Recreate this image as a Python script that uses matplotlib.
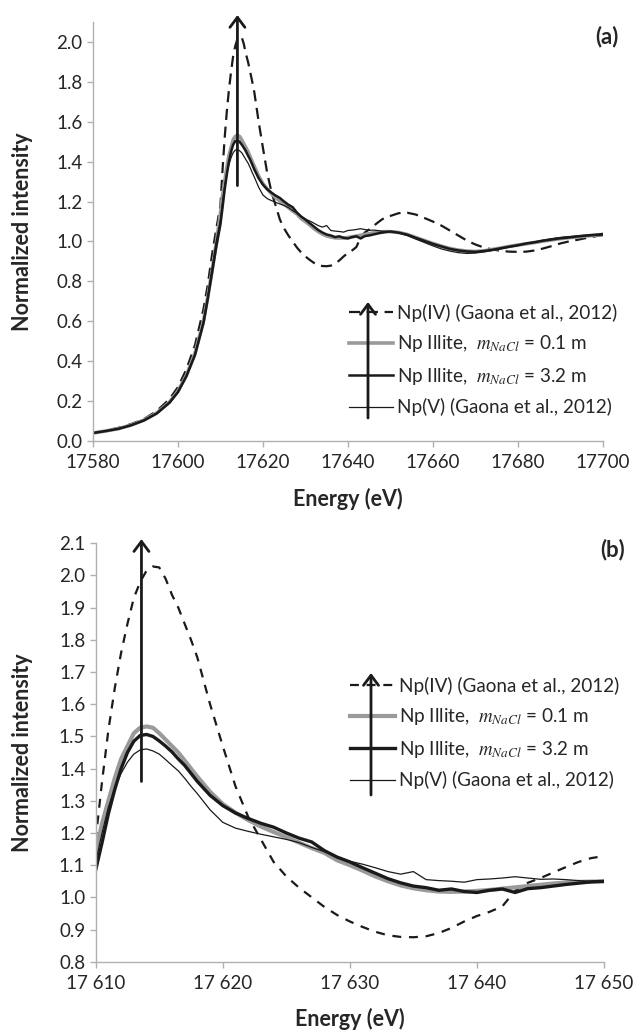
import numpy as np
import matplotlib
matplotlib.use("Agg")
import matplotlib.pyplot as plt
from matplotlib.ticker import FuncFormatter, MultipleLocator

plt.rcParams['font.family'] = ['Lato', 'DejaVu Sans']
plt.rcParams['mathtext.fontset'] = 'stix'

# energie (eV), grille commune aux quatre spectres
energy = [17580, 17583, 17586, 17589, 17592, 17595, 17598, 17600, 17602, 17604, 17606, 17607, 17608, 17609,
          17610, 17610.5, 17611, 17611.5, 17612, 17612.5, 17613, 17613.5, 17614, 17614.5, 17615, 17615.5,
          17616, 17616.5, 17617, 17617.5, 17618,
          17619, 17620, 17621, 17622, 17623, 17624, 17625, 17626, 17627, 17628, 17629, 17630, 17631, 17632,
          17633, 17634, 17635, 17636, 17637, 17638, 17639, 17640, 17641, 17642, 17643, 17644, 17645, 17646,
          17647, 17648, 17649, 17650,
          17652, 17654, 17656, 17658, 17660, 17662, 17664, 17666, 17668, 17670, 17672, 17674, 17676, 17678,
          17680, 17682, 17684, 17686, 17688, 17690, 17692, 17694, 17696, 17698, 17700]

np_iv = [0.04, 0.052, 0.066, 0.085, 0.11, 0.15, 0.21, 0.27, 0.36, 0.48, 0.66, 0.78, 0.93, 1.06,
         1.18, 1.36, 1.52, 1.65, 1.76, 1.85, 1.93, 1.98, 2.015, 2.028, 2.025, 1.99,
         1.94, 1.90, 1.85, 1.80, 1.745,
         1.60, 1.47, 1.345, 1.25, 1.18, 1.11, 1.065, 1.03, 1.0, 0.97, 0.945, 0.925, 0.908, 0.893,
         0.882, 0.877, 0.876, 0.879, 0.889, 0.905, 0.925, 0.942, 0.955, 0.972, 1.02, 1.045, 1.06, 1.077,
         1.094, 1.11, 1.122, 1.128,
         1.142, 1.144, 1.135, 1.118, 1.10, 1.08, 1.055, 1.03, 1.005, 0.985, 0.97, 0.96, 0.953, 0.949,
         0.948, 0.949, 0.955, 0.965, 0.977, 0.99, 1.0, 1.008, 1.017, 1.025, 1.032]

illite_01 = [0.04, 0.05, 0.062, 0.08, 0.105, 0.14, 0.195, 0.25, 0.33, 0.44, 0.6, 0.72, 0.85, 0.99,
             1.14, 1.23, 1.30, 1.37, 1.43, 1.47, 1.51, 1.527, 1.531, 1.527, 1.51, 1.49,
             1.47, 1.45, 1.425, 1.40, 1.375,
             1.328, 1.29, 1.263, 1.24, 1.22, 1.203, 1.187, 1.17, 1.153, 1.138, 1.115, 1.10, 1.083, 1.065,
             1.05, 1.037, 1.028, 1.022, 1.018, 1.017, 1.018, 1.02, 1.023, 1.027, 1.031, 1.035, 1.039, 1.043,
             1.046, 1.048, 1.049, 1.049,
             1.045, 1.035, 1.02, 1.005, 0.99, 0.977, 0.965, 0.957, 0.952, 0.95, 0.953, 0.96, 0.967, 0.975,
             0.982, 0.988, 0.995, 1.002, 1.008, 1.014, 1.019, 1.023, 1.027, 1.031, 1.035]

illite_32 = [0.04, 0.05, 0.061, 0.079, 0.103, 0.138, 0.192, 0.245, 0.325, 0.43, 0.59, 0.71, 0.84, 0.97,
             1.085, 1.17, 1.26, 1.335, 1.40, 1.45, 1.485, 1.503, 1.506, 1.50, 1.486, 1.47,
             1.452, 1.43, 1.41, 1.385, 1.36,
             1.317, 1.285, 1.262, 1.245, 1.23, 1.218, 1.20, 1.184, 1.172, 1.145, 1.125, 1.11, 1.092, 1.075,
             1.058, 1.045, 1.035, 1.03, 1.022, 1.026, 1.018, 1.015, 1.022, 1.026, 1.015, 1.027, 1.03, 1.035,
             1.04, 1.044, 1.048, 1.05,
             1.044, 1.034, 1.018, 1.003, 0.988, 0.975, 0.963, 0.955, 0.95, 0.948, 0.952, 0.958, 0.966, 0.974,
             0.981, 0.99, 0.996, 1.004, 1.01, 1.016, 1.02, 1.025, 1.03, 1.033, 1.037]

np_v = [0.04, 0.05, 0.062, 0.08, 0.104, 0.139, 0.193, 0.248, 0.328, 0.435, 0.6, 0.72, 0.86, 1.0,
        1.11, 1.20, 1.28, 1.34, 1.385, 1.42, 1.445, 1.458, 1.461, 1.455, 1.445, 1.428,
        1.41, 1.393, 1.37, 1.345, 1.322,
        1.272, 1.233, 1.215, 1.205, 1.196, 1.188, 1.18, 1.17, 1.155, 1.142, 1.126, 1.112, 1.103, 1.092,
        1.08, 1.072, 1.08, 1.055, 1.052, 1.05, 1.047, 1.055, 1.057, 1.06, 1.064, 1.06, 1.056, 1.057,
        1.055, 1.052, 1.05, 1.049,
        1.043, 1.03, 1.012, 0.995, 0.978, 0.963, 0.952, 0.944, 0.94, 0.942, 0.948, 0.955, 0.963, 0.972,
        0.98, 0.99, 0.998, 1.006, 1.014, 1.02, 1.024, 1.027, 1.028, 1.03, 1.032]

labels = ["Np(IV) (Gaona et al., 2012)",
          r"Np Illite,  $m_{NaCl}$ = 0.1 m",
          r"Np Illite,  $m_{NaCl}$ = 3.2 m",
          "Np(V) (Gaona et al., 2012)"]

# fleche du pic (energie, debut, fin)
arrow_a = (17614, 1.28, 2.135)
arrow_b = (17613.6, 1.36, 2.113)

W, H = 633, 1030
fig = plt.figure(figsize=(W / 100, H / 100), dpi=100)

spine_col = '#b0b0b0'
txt_col = '#262626'
TICK_FS = 13.5
LEG_FS = 13.6
LAB_FS = 15.5


def px_axes(l, r, t, b):
    return fig.add_axes([l / W, 1 - b / H, (r - l) / W, (b - t) / H])


def style(ax):
    for s in ['top', 'right']:
        ax.spines[s].set_visible(False)
    for s in ['left', 'bottom']:
        ax.spines[s].set_color(spine_col)
        ax.spines[s].set_linewidth(1.0)
    ax.tick_params(direction='out', length=4.5, width=1.0, color=spine_col,
                   labelsize=TICK_FS, labelcolor=txt_col)
    ax.tick_params(axis='x', pad=5)
    ax.tick_params(axis='y', pad=3)


def draw(ax, lw_gray, lw_black, dashes):
    l1, = ax.plot(energy, np_iv, color='#1a1a1a', lw=1.6, dashes=dashes, label=labels[0])
    l2, = ax.plot(energy, illite_01, color='#9a9a9a', lw=lw_gray, label=labels[1])
    l3, = ax.plot(energy, illite_32, color='#1a1a1a', lw=lw_black, label=labels[2])
    l4, = ax.plot(energy, np_v, color='#1a1a1a', lw=0.9, label=labels[3])
    return [l1, l2, l3, l4]


def fig_arrow(x, y0, y1):
    fig.patches.append(matplotlib.patches.FancyArrowPatch(
        (x / W, 1 - y0 / H), (x / W, 1 - y1 / H), transform=fig.transFigure,
        arrowstyle='->,head_length=0.6,head_width=0.45', mutation_scale=12,
        lw=2.0, color='#1a1a1a', shrinkA=0, shrinkB=0))


def legend(ax, h, x, y, hl):
    ax.legend(handles=h, loc='upper left', bbox_to_anchor=(x / W, 1 - y / H),
              bbox_transform=fig.transFigure, frameon=False, fontsize=LEG_FS,
              handlelength=hl, handletextpad=0.22, labelspacing=0.6, borderpad=0,
              borderaxespad=0, labelcolor=txt_col)


# ---- (a)
ax1 = px_axes(93, 602.7, 22, 441)
style(ax1)
h = draw(ax1, 2.6, 1.8, (5, 3))
ax1.set_xlim(17580, 17700)
ax1.set_ylim(0, 2.1)
ax1.set_xticks(np.arange(17580, 17701, 20))
ax1.set_yticks(np.arange(0, 2.01, 0.2))
ax1.yaxis.set_major_formatter(FuncFormatter(lambda v, p: f"{v:.1f}"))
ax1.annotate('', xy=(arrow_a[0], arrow_a[2]), xytext=(arrow_a[0], arrow_a[1]),
             arrowprops=dict(arrowstyle='->,head_length=0.6,head_width=0.45', lw=2.0,
                             color='#1a1a1a', shrinkA=0, shrinkB=0, mutation_scale=12),
             annotation_clip=False)
ax1.set_xlabel('Energy (eV)', fontsize=LAB_FS, fontweight='bold', color=txt_col)
ax1.set_ylabel('Normalized intensity', fontsize=LAB_FS, fontweight='bold', color=txt_col)
ax1.xaxis.set_label_coords(0.5, -0.112)
ax1.yaxis.set_label_coords(-0.118, 0.5)
legend(ax1, h, 349, 304, 44 / (LEG_FS * 100 / 72))
fig_arrow(368, 418, 302)
fig.text(607 / W, 1 - 37 / H, '(a)', fontsize=16, fontweight='bold', color=txt_col,
         ha='center', va='center')

# ---- (b)
ax2 = px_axes(95.7, 604, 543.3, 961.7)
style(ax2)
h = draw(ax2, 3.0, 2.4, (4, 3.5))
ax2.set_xlim(17610, 17650)
ax2.set_ylim(0.8, 2.1)
ax2.set_xticks(np.arange(17610, 17651, 10))
ax2.yaxis.set_major_locator(MultipleLocator(0.1))
ax2.yaxis.set_major_formatter(FuncFormatter(lambda v, p: f"{v:.1f}"))
ax2.xaxis.set_major_formatter(FuncFormatter(lambda v, p: f"{int(round(v)):,}".replace(',', ' ')))
ax2.annotate('', xy=(arrow_b[0], arrow_b[2]), xytext=(arrow_b[0], arrow_b[1]),
             arrowprops=dict(arrowstyle='->,head_length=0.6,head_width=0.45', lw=2.0,
                             color='#1a1a1a', shrinkA=0, shrinkB=0, mutation_scale=12),
             annotation_clip=False)
ax2.set_xlabel('Energy (eV)', fontsize=LAB_FS, fontweight='bold', color=txt_col)
ax2.set_ylabel('Normalized intensity', fontsize=LAB_FS, fontweight='bold', color=txt_col)
ax2.xaxis.set_label_coords(0.5, -0.111)
ax2.yaxis.set_label_coords(-0.123, 0.5)
legend(ax2, h, 350, 677, 45 / (LEG_FS * 100 / 72))
fig_arrow(371, 795, 673)
fig.text(613 / W, 1 - 550 / H, '(b)', fontsize=16, fontweight='bold', color=txt_col,
         ha='center', va='center')

fig.savefig('out.png', dpi=100)
